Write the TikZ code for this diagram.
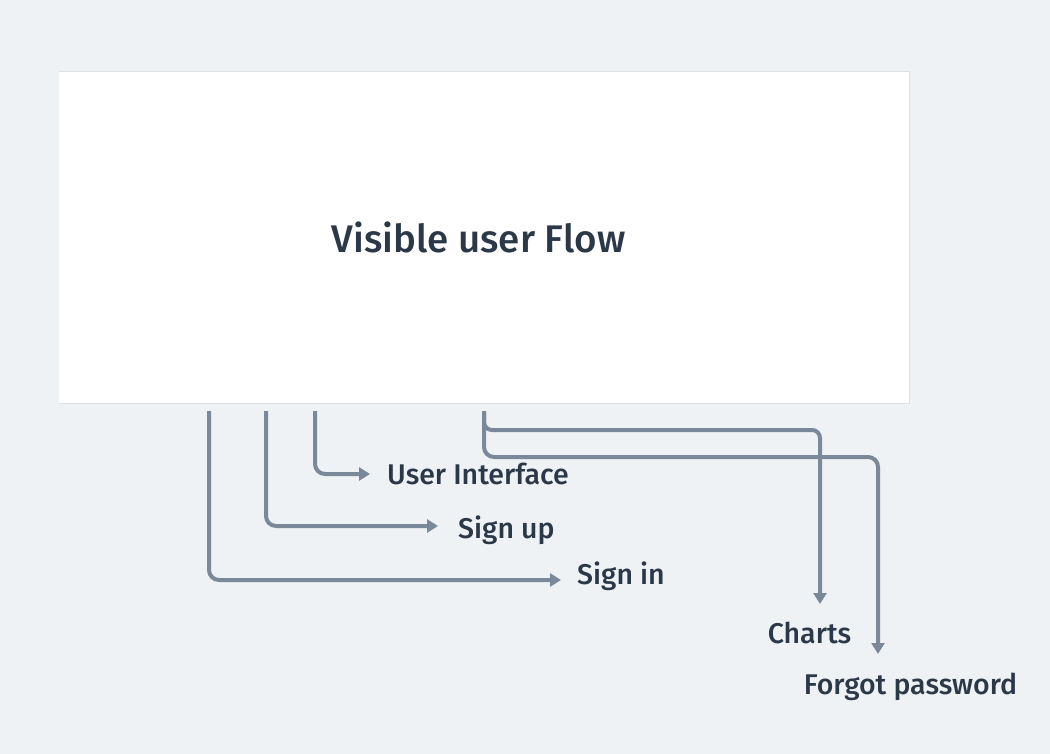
\documentclass[tikz,border=0pt]{standalone}
\usepackage{fontspec}
\setmainfont{Fira Sans}[UprightFont=* Medium]
\usetikzlibrary{arrows.meta,positioning,calc}
\definecolor{bgcol}{HTML}{EFF2F5}
\definecolor{linecol}{HTML}{7A8999}
\definecolor{textcol}{HTML}{2B3848}

\begin{document}
\begin{tikzpicture}[x=1pt, y=-1pt,
    flow/.style={draw=linecol, line width=4pt, rounded corners=10pt, -{Triangle[length=11pt,width=13pt]}},
    lbl/.style={text=textcol, font=\fontsize{28.5}{33}\selectfont, inner sep=0pt}]
    % Background
    \fill[bgcol] (0,0) rectangle (1050,754);
    \useasboundingbox (0,0) rectangle (1050,754);

    % Main box
    \fill[black!12] (58.5,71.5) rectangle (909.5,404);
    \node[fill=white, minimum width=850pt, minimum height=331pt, inner sep=0pt] (box) at (484,237.5) {};
    \node[text=textcol, font=\fontsize{38.5}{44}\selectfont, inner sep=0pt] (title) at (478.5,237.5) {Visible user Flow};

    % Start points below the box
    \coordinate (s1) at (209,411);
    \coordinate (s2) at (266,411);
    \coordinate (s3) at (315,411);
    \coordinate (s4) at (484,411);
    \coordinate (c1) at (820,604);
    \coordinate (c2) at (878,654);

    % Labels
    \node[lbl, anchor=west] (ui) at (387,473.5) {User Interface};
    \node[lbl, anchor=west] (signup) at (458,530.5) {Sign up};
    \node[lbl, anchor=west] (signin) at (577,576.5) {Sign in};
    \node[lbl] (charts) at (809.5,632.5) {Charts};
    \node[lbl] (forgot) at (910.5,686.5) {Forgot password};

    % Connectors
    \draw[flow] (s3) |- ([xshift=-17pt,yshift=-0.5pt]ui.west);
    \draw[flow] (s2) |- ([xshift=-20pt,yshift=4.5pt]signup.west);
    \draw[flow] (s1) |- ([xshift=-16pt,yshift=-3.5pt]signin.west);
    \draw[flow, rounded corners=8pt] (s4) |- (820,430) -- (c1);
    \draw[flow] (s4) |- (878,457) -- (c2);
\end{tikzpicture}
\end{document}
